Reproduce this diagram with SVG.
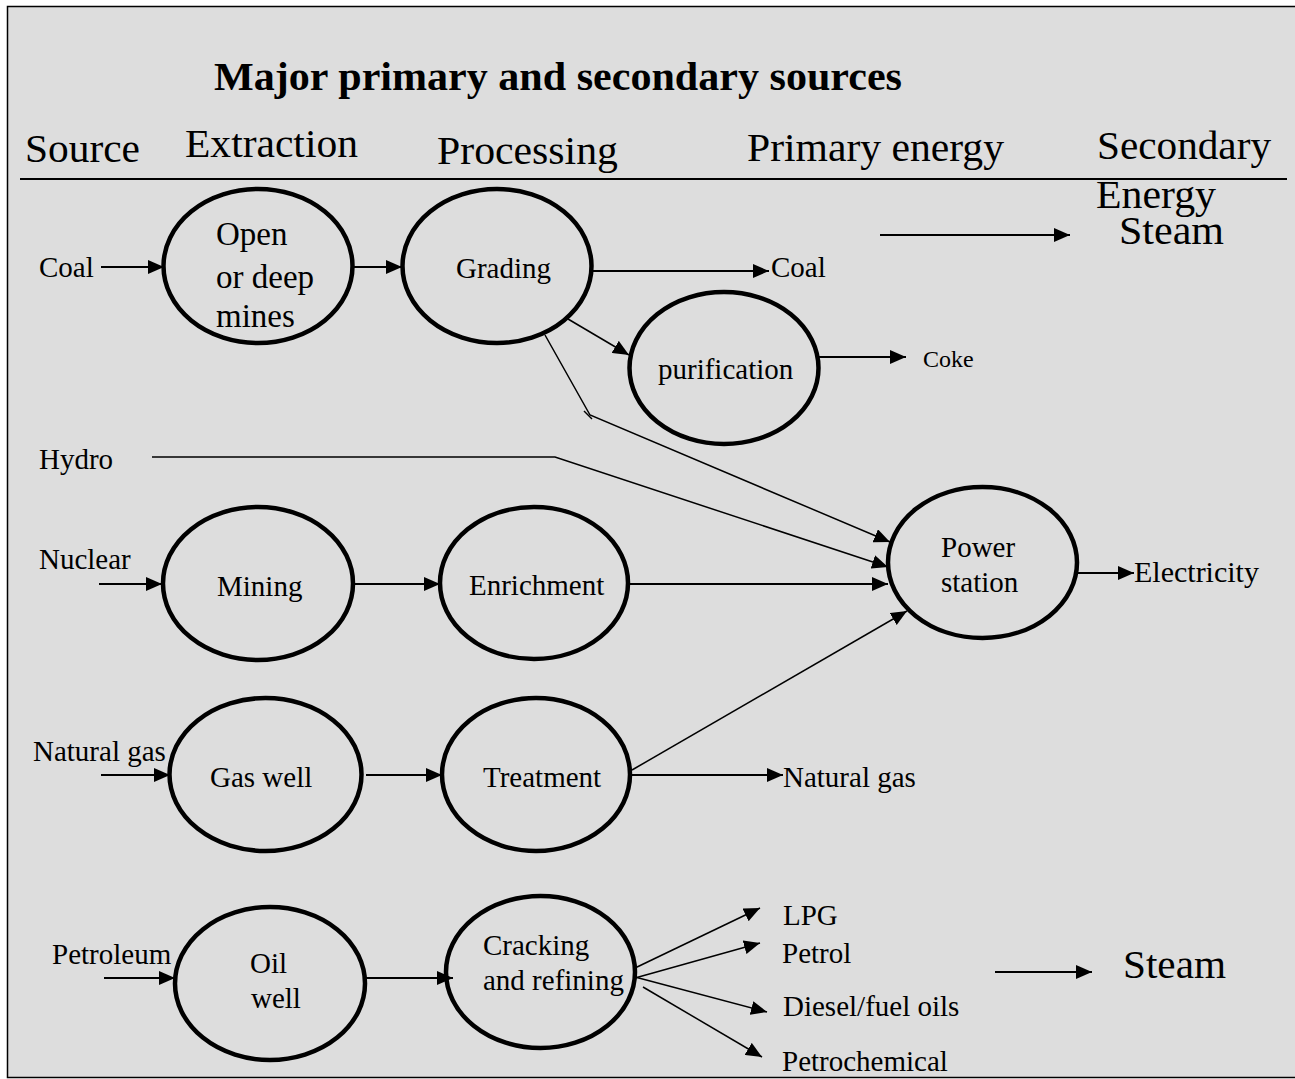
<svg xmlns="http://www.w3.org/2000/svg" width="1295" height="1079" viewBox="0 0 1295 1079">
<style>
text{font-family:"Liberation Serif","Times New Roman",serif;fill:#000}
.h{font-size:41px}
.t{font-size:29px}
.n{fill:none;stroke:#000;stroke-width:4.5}
.c{fill:none;stroke:#000;stroke-width:2}
.d{fill:none;stroke:#000;stroke-width:1.5}
</style>
<defs>
<marker id="a" markerUnits="userSpaceOnUse" markerWidth="18" markerHeight="14" refX="16" refY="7" orient="auto">
<path d="M0,0 L16,7 L0,14 z" fill="#000"/>
</marker>
</defs>
<rect x="0" y="0" width="1295" height="1079" fill="#fff"/>
<rect x="7.5" y="6.5" width="1300" height="1071" fill="#dddddd" stroke="#000" stroke-width="1.5"/>

<g id="headers">
<text x="214" y="90" font-size="40" font-weight="bold" textLength="688" lengthAdjust="spacingAndGlyphs">Major primary and secondary sources</text>
<text class="h" x="25" y="162" textLength="115" lengthAdjust="spacingAndGlyphs">Source</text>
<text class="h" x="185" y="157" textLength="173" lengthAdjust="spacingAndGlyphs">Extraction</text>
<text class="h" x="437" y="164" textLength="181" lengthAdjust="spacingAndGlyphs">Processing</text>
<text class="h" x="747" y="161" textLength="257" lengthAdjust="spacingAndGlyphs">Primary energy</text>
<text class="h" x="1097" y="159" textLength="174" lengthAdjust="spacingAndGlyphs">Secondary</text>
<line x1="20" y1="179" x2="1287" y2="179" stroke="#000" stroke-width="2"/>
<text class="h" x="1096" y="208" textLength="120" lengthAdjust="spacingAndGlyphs">Energy</text>
<text class="h" x="1119" y="244" textLength="105" lengthAdjust="spacingAndGlyphs">Steam</text>
</g>

<g id="labels">
<text class="t" x="39" y="277">Coal</text>
<text class="t" x="771" y="277">Coal</text>
<text x="923" y="367" font-size="24">Coke</text>
<text class="t" x="39" y="469">Hydro</text>
<text class="t" x="39" y="569">Nuclear</text>
<text x="1134" y="582" font-size="30">Electricity</text>
<text class="t" x="33" y="761">Natural gas</text>
<text class="t" x="783" y="787">Natural gas</text>
<text class="t" x="52" y="964">Petroleum</text>
<text class="t" x="783" y="925">LPG</text>
<text class="t" x="782" y="963">Petrol</text>
<text class="t" x="783" y="1016">Diesel/fuel oils</text>
<text class="t" x="782" y="1071">Petrochemical</text>
<text class="h" x="1123" y="978" textLength="103" lengthAdjust="spacingAndGlyphs">Steam</text>
</g>

<g id="node-mines">
<ellipse class="n" cx="258" cy="266" rx="94.5" ry="77"/>
<text x="216" y="245" font-size="33">Open</text>
<text x="216" y="288" font-size="33">or deep</text>
<text x="216" y="327" font-size="33">mines</text>
</g>
<g id="node-grading">
<ellipse class="n" cx="497" cy="266" rx="94.5" ry="77"/>
<text class="t" x="456" y="278">Grading</text>
</g>
<g id="node-purification">
<ellipse class="n" cx="724" cy="368" rx="94.5" ry="76"/>
<text class="t" x="658" y="379">purification</text>
</g>
<g id="node-mining">
<ellipse class="n" cx="258" cy="583.5" rx="95" ry="76.5"/>
<text class="t" x="217" y="596">Mining</text>
</g>
<g id="node-enrichment">
<ellipse class="n" cx="534" cy="583" rx="94" ry="76"/>
<text class="t" x="469" y="595">Enrichment</text>
</g>
<g id="node-power">
<ellipse class="n" cx="982.5" cy="562.5" rx="94.5" ry="75.5"/>
<text class="t" x="941" y="557">Power</text>
<text class="t" x="941" y="592">station</text>
</g>
<g id="node-gaswell">
<ellipse class="n" cx="265.5" cy="774.5" rx="96" ry="76.5"/>
<text class="t" x="210" y="787">Gas well</text>
</g>
<g id="node-treatment">
<ellipse class="n" cx="536" cy="774.5" rx="94" ry="76.5"/>
<text class="t" x="483" y="787">Treatment</text>
</g>
<g id="node-oilwell">
<ellipse class="n" cx="270" cy="983.5" rx="95" ry="76.5"/>
<text class="t" x="250" y="973">Oil</text>
<text class="t" x="251" y="1008">well</text>
</g>
<g id="node-cracking">
<ellipse class="n" cx="540.5" cy="972" rx="94.5" ry="76"/>
<text class="t" x="483" y="955">Cracking</text>
<text class="t" x="483" y="990">and refining</text>
</g>

<g id="connectors">
<line class="c" x1="101" y1="267" x2="164" y2="267" marker-end="url(#a)"/>
<line class="c" x1="353" y1="267" x2="402" y2="267" marker-end="url(#a)"/>
<line class="c" x1="592" y1="271" x2="769" y2="271" marker-end="url(#a)"/>
<line class="d" x1="568" y1="319" x2="629" y2="355" marker-end="url(#a)"/>
<polyline class="d" points="545,335 590,415 890,542" marker-end="url(#a)"/>
<line class="d" x1="584" y1="411" x2="592" y2="419"/>
<line class="c" x1="818" y1="357" x2="906" y2="357" marker-end="url(#a)"/>
<line class="c" x1="880" y1="235" x2="1070" y2="235" marker-end="url(#a)"/>
<polyline class="d" points="152,457 555,457 888,567" marker-end="url(#a)"/>
<line class="c" x1="99" y1="584" x2="162" y2="584" marker-end="url(#a)"/>
<line class="c" x1="353" y1="584" x2="440" y2="584" marker-end="url(#a)"/>
<line class="c" x1="628" y1="584" x2="888" y2="584" marker-end="url(#a)"/>
<line class="c" x1="1076" y1="573" x2="1134" y2="573" marker-end="url(#a)"/>
<line class="d" x1="632" y1="770" x2="907" y2="611" marker-end="url(#a)"/>
<line class="c" x1="101" y1="775" x2="170" y2="775" marker-end="url(#a)"/>
<line class="c" x1="366" y1="775" x2="442" y2="775" marker-end="url(#a)"/>
<line class="c" x1="630" y1="775" x2="783" y2="775" marker-end="url(#a)"/>
<line class="c" x1="104" y1="978" x2="175" y2="978" marker-end="url(#a)"/>
<line class="c" x1="365" y1="978" x2="453" y2="978" marker-end="url(#a)"/>
<line class="d" x1="635" y1="968" x2="760" y2="908" marker-end="url(#a)"/>
<line class="d" x1="635" y1="978" x2="760" y2="943" marker-end="url(#a)"/>
<line class="d" x1="635" y1="977" x2="767" y2="1012" marker-end="url(#a)"/>
<line class="d" x1="643" y1="987" x2="762" y2="1057" marker-end="url(#a)"/>
<line class="c" x1="995" y1="972" x2="1092" y2="972" marker-end="url(#a)"/>
</g>
</svg>
